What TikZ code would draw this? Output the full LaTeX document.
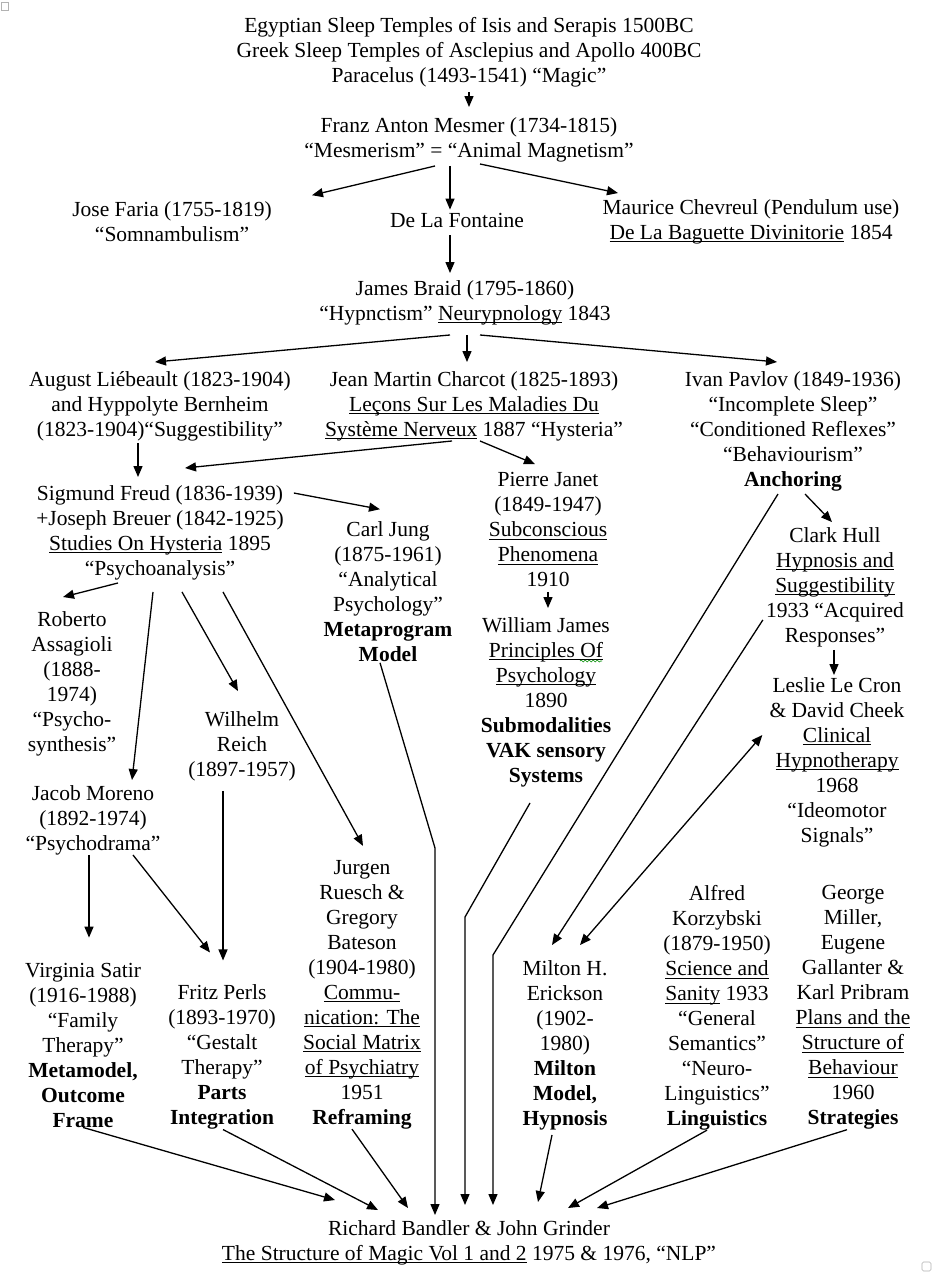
\documentclass[tikz,border=0pt]{standalone}
\usepackage{fontspec}
\setmainfont{Liberation Serif}
\newcommand\uln[1]{\setbox0\hbox{#1}\rlap{\rule[-3.2pt]{\wd0}{0.9pt}}\box0\relax}
\usetikzlibrary{calc,arrows.meta,decorations.pathmorphing}
\begin{document}
\begin{tikzpicture}[x=1pt,y=-1pt,
  txt/.style={align=center,inner sep=1pt,font=\fontsize{21.5}{25}\selectfont},
  arr/.style={line width=1.3pt,-{Triangle[length=11pt,width=9pt]}},
  arrdbl/.style={line width=1.3pt,{Triangle[length=11pt,width=9pt]}-{Triangle[length=11pt,width=9pt]}},
  cornermark/.style={draw=gray!60,line width=0.6pt}]
\useasboundingbox[fill=white] (0,0) rectangle (941,1278);

% corner marks
\draw[cornermark] (1,2) rectangle (8,10);
\draw[cornermark,rounded corners=1.5pt] (922,1262) rectangle (931,1271);

% nodes
\node[txt] (top) at (469,52) {Egyptian Sleep Temples of Isis and Serapis 1500BC\\Greek Sleep Temples of Asclepius and Apollo 400BC\\Paracelus (1493-1541) “Magic”};
\node[txt] (mesmer) at (469,139.5) {Franz Anton Mesmer (1734-1815)\\“Mesmerism” = “Animal Magnetism”};
\node[txt] (faria) at (172,221.5) {Jose Faria (1755-1819)\\“Somnambulism”};
\node[txt] (fontaine) at (457,220) {De La Fontaine};
\node[txt] (chevreul) at (751,221.5) {Maurice Chevreul (Pendulum use)\\\uln{De La Baguette Divinitorie} 1854};
\node[txt] (braid) at (465,302.5) {James Braid (1795-1860)\\“Hypnctism” \uln{Neurypnology} 1843};
\node[txt] (lieb) at (160,406) {August Liébeault (1823-1904)\\and Hyppolyte Bernheim\\(1823-1904)“Suggestibility”};
\node[txt] (charcot) at (474,406) {Jean Martin Charcot (1825-1893)\\\uln{Leçons Sur Les Maladies Du}\\\uln{Système Nerveux} 1887 “Hysteria”};
\node[txt] (pavlov) at (793,431) {Ivan Pavlov (1849-1936)\\“Incomplete Sleep”\\“Conditioned Reflexes”\\“Behaviourism”\\\textbf{Anchoring}};
\node[txt] (freud) at (160,532.5) {Sigmund Freud (1836-1939)\\+Joseph Breuer (1842-1925)\\\uln{Studies On Hysteria} 1895\\“Psychoanalysis”};
\node[txt] (jung) at (388,591.5) {Carl Jung\\(1875-1961)\\“Analytical\\Psychology”\\\textbf{Metaprogram}\\\textbf{Model}};
\node[txt] (janet) at (548,529.5) {Pierre Janet\\(1849-1947)\\\uln{Subconscious}\\\uln{Phenomena}\\1910};
\node[txt] (wjames) at (546,702) {William James\\\uln{Principles Of}\\\uln{Psychology}\\1890\\\textbf{Submodalities}\\\textbf{VAK sensory}\\\textbf{Systems}};
\node[txt] (hull) at (835,587) {Clark Hull\\\uln{Hypnosis and}\\\uln{Suggestibility}\\1933 “Acquired\\Responses”};
\node[txt] (lecron) at (837,762) {Leslie Le Cron\\\& David Cheek\\\uln{Clinical}\\\uln{Hypnotherapy}\\1968\\“Ideomotor\\Signals”};
\node[txt] (roberto) at (72,683.5) {Roberto\\Assagioli\\(1888-\\1974)\\“Psycho-\\synthesis”};
\node[txt] (moreno) at (93,820) {Jacob Moreno\\(1892-1974)\\“Psychodrama”};
\node[txt] (reich) at (242,746) {Wilhelm\\Reich\\(1897-1957)};
\node[txt] (ruesch) at (362,994.5) {Jurgen\\Ruesch \&\\Gregory\\Bateson\\(1904-1980)\\\uln{Commu-}\\\uln{nication: The}\\\uln{Social Matrix}\\\uln{of Psychiatry}\\1951\\\textbf{Reframing}};
\node[txt] (satir) at (83,1045) {Virginia Satir\\(1916-1988)\\“Family\\Therapy”\\\textbf{Metamodel,}\\\textbf{Outcome}\\\textbf{Frame}};
\node[txt] (perls) at (222,1057) {Fritz Perls\\(1893-1970)\\“Gestalt\\Therapy”\\\textbf{Parts}\\\textbf{Integration}};
\node[txt] (erickson) at (565,1045) {Milton H.\\Erickson\\(1902-\\1980)\\\textbf{Milton}\\\textbf{Model,}\\\textbf{Hypnosis}};
\node[txt] (korz) at (717,1007.5) {Alfred\\Korzybski\\(1879-1950)\\\uln{Science and}\\\uln{Sanity} 1933\\“General\\Semantics”\\“Neuro-\\Linguistics”\\\textbf{Linguistics}};
\node[txt] (miller) at (853,1007.5) {George\\Miller,\\Eugene\\Gallanter \&\\Karl Pribram\\\uln{Plans and the}\\\uln{Structure of}\\\uln{Behaviour}\\1960\\\textbf{Strategies}};
\node[txt] (bandler) at (469,1242.5) {Richard Bandler \& John Grinder\\\uln{The Structure of Magic Vol 1 and 2} 1975 \& 1976, “NLP”};

% spell-check squiggle under "Of"
\draw[green!55!black,line width=0.6pt,decorate,decoration={snake,amplitude=1pt,segment length=4pt}]
  ($(wjames.north)+(34,45)$) -- ++(22,0);

% bend points
\coordinate (jbend) at (435,848);
\coordinate (wbend) at (465,917);
\coordinate (abend) at (493,955);

% connectors
\draw[arr] ($(top.south)+(0,4)$) -- ($(mesmer.north)+(0,-9)$);
\draw[arr] ($(mesmer.south)+(-34,3)$) -- ($(faria.north)+(140,-5)$);
\draw[arr] ($(mesmer.south)+(-19,3)$) -- ($(fontaine.north)+(-7,-2)$);
\draw[arr] ($(mesmer.south)+(11,1)$) -- ($(chevreul.north)+(-133,-5)$);
\draw[arr] ($(fontaine.south)+(-7,7)$) -- ($(braid.north)+(-15,-6)$);
\draw[arr] ($(braid.south)+(-15,9)$) -- ($(lieb.north)+(-5,-8)$);
\draw[arr] ($(braid.south)+(2,9)$) -- ($(charcot.north)+(-7,-8)$);
\draw[arr] ($(braid.south)+(15,9)$) -- ($(pavlov.north)+(-16,-8)$);
\draw[arr] ($(lieb.south)+(-22,1)$) -- ($(freud.north)+(-22,-7)$);
\draw[arr] ($(charcot.south)+(-22,-1)$) -- ($(freud.north)+(25,-16)$);
\draw[arr] ($(charcot.south)+(6,-1)$) -- ($(janet.north)+(-13,-7)$);
\draw[arr] ($(pavlov.south)+(12,2)$) -- ($(hull.north)+(-3,-4)$);
\draw[arr] ($(freud.north east)+(9,9)$) -- ($(jung.north)+(-8,-11)$);
\draw[arr] ($(janet.south)+(0,4)$) -- ($(wjames.north)+(2,-8)$);
\draw[arr] ($(hull.south)+(-1,2)$) -- ($(lecron.north)+(-3,-1)$);
\draw[arr] ($(freud.south)+(-42,2)$) -- ($(roberto.north)+(-9,-13)$);
\draw[arr] ($(freud.south)+(-7,11)$) -- ($(moreno.north)+(39,-4)$);
\draw[arr] ($(freud.south)+(22,11)$) -- ($(reich.north)+(-4,-19)$);
\draw[arr] ($(freud.south)+(63,11)$) -- ($(ruesch.north)+(1,-13)$);
\draw[arr] ($(moreno.south)+(-4,-1)$) -- ($(satir.north)+(6,-24)$);
\draw[arr] ($(moreno.south)+(40,-1)$) -- ($(perls.north)+(-12,-31)$);
\draw[arr] ($(reich.south)+(-19,9)$) -- ($(perls.north)+(1,-23)$);
\draw[arr] ($(satir.south)+(0,-1)$) -- ($(bandler.north)+(-134,-19)$);
\draw[arr] ($(perls.south)+(1,-1)$) -- ($(bandler.north)+(-91,-9)$);
\draw[arr] ($(ruesch.south)+(-10,-1)$) -- ($(bandler.north)+(-61,-11)$);
\draw[arr] ($(jung.south)+(-8,0)$) -- (jbend) -- ($(bandler.north)+(-34,-4)$);
\draw[arr] ($(wjames.south)+(-16,15)$) -- (wbend) -- ($(bandler.north)+(-4,-14)$);
\draw[arr] ($(pavlov.south)+(-15,2)$) -- (abend) -- ($(bandler.north)+(24,-14)$);
\draw[arr] ($(hull.south west)+(-2,-28)$) -- ($(erickson.north)+(-13,-14)$);
\draw[arrdbl] ($(erickson.north)+(15,-14)$) -- ($(lecron.west)+(-6,-27)$);
\draw[arr] ($(erickson.south)+(-13,4)$) -- ($(bandler.north)+(69,-17)$);
\draw[arr] ($(korz.south)+(-10,-1)$) -- ($(bandler.north)+(99,-11)$);
\draw[arr] ($(miller.south)+(-6,-1)$) -- ($(bandler.north)+(128,-11)$);
\end{tikzpicture}
\end{document}
